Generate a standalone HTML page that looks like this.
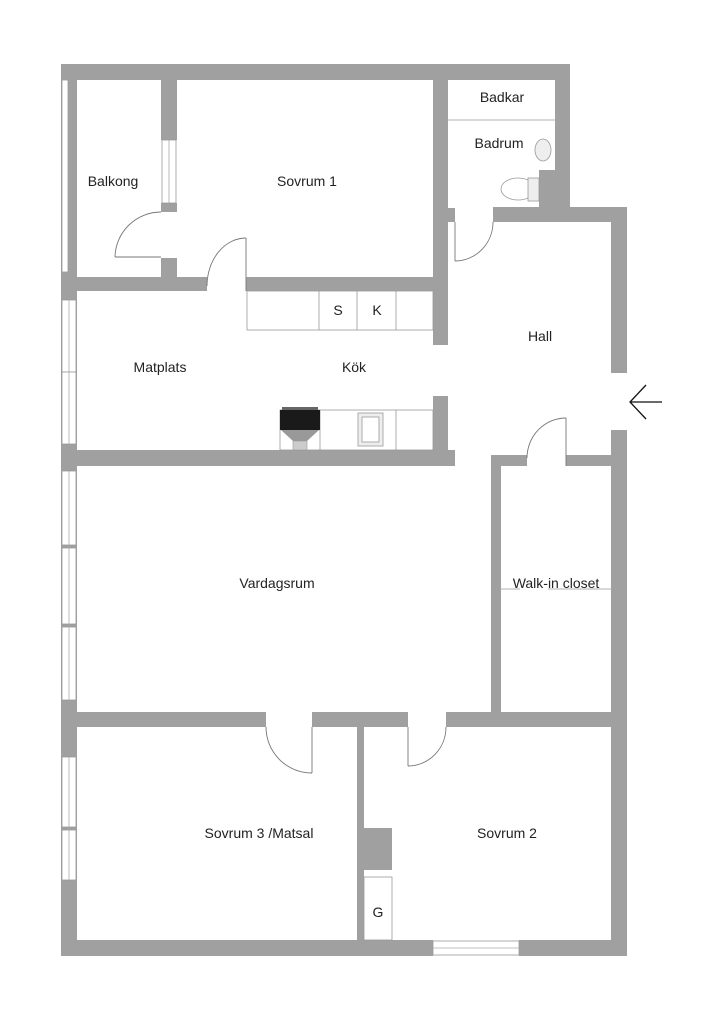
<!DOCTYPE html>
<html><head><meta charset="utf-8"><style>
html,body{margin:0;padding:0;background:#fff;}
svg{display:block;}
text{font-family:"Liberation Sans",sans-serif;font-size:14px;fill:#222;text-anchor:middle;}
</style></head><body>
<svg width="727" height="1024" viewBox="0 0 727 1024" xmlns="http://www.w3.org/2000/svg">
<g fill="#a0a0a0">
<rect x="61" y="64" width="509" height="16"/>
<rect x="555" y="64" width="15" height="158"/>
<rect x="493" y="207" width="134" height="15"/>
<rect x="611" y="207" width="16" height="166"/>
<rect x="611" y="430" width="16" height="526"/>
<rect x="61" y="940" width="372" height="16"/>
<rect x="519" y="940" width="108" height="16"/>
<rect x="61" y="64" width="16" height="892"/>
<rect x="161" y="80" width="16" height="60"/>
<rect x="161" y="203" width="16" height="9"/>
<rect x="161" y="258" width="16" height="19"/>
<rect x="61" y="277" width="146" height="14"/>
<rect x="246" y="277" width="190" height="14"/>
<rect x="433" y="64" width="15" height="281"/>
<rect x="433" y="396" width="15" height="70"/>
<rect x="448" y="208" width="7" height="14"/>
<rect x="539" y="170" width="16" height="38"/>
<rect x="61" y="450" width="394" height="16"/>
<rect x="491" y="455" width="10" height="272"/>
<rect x="491" y="455" width="36" height="11"/>
<rect x="566" y="455" width="45" height="11"/>
<rect x="61" y="712" width="205" height="15"/>
<rect x="312" y="712" width="96" height="15"/>
<rect x="446" y="712" width="181" height="15"/>
<rect x="61" y="700" width="16" height="57"/>
<rect x="357" y="727" width="7" height="213"/>
<rect x="364" y="828" width="28" height="42"/>
</g>
<g fill="#fff" stroke="#999" stroke-width="0.8">
<rect x="62" y="80" width="6" height="192"/>
<rect x="62" y="300" width="14" height="72"/>
<rect x="62" y="372" width="14" height="72"/>
<rect x="62" y="471" width="14" height="74"/>
<rect x="62" y="548" width="14" height="76"/>
<rect x="62" y="627" width="14" height="73"/>
<rect x="62" y="757" width="14" height="70"/>
<rect x="62" y="830" width="14" height="50"/>
<rect x="162" y="140" width="14" height="63"/>
<rect x="433" y="941" width="86" height="14"/>
</g>
<g stroke="#aaa" stroke-width="0.8" fill="none">
<line x1="69" y1="300" x2="69" y2="444"/><line x1="69" y1="471" x2="69" y2="700"/><line x1="69" y1="757" x2="69" y2="880"/>
<line x1="169" y1="140" x2="169" y2="203"/><line x1="433" y1="948" x2="519" y2="948"/>
</g>
<g stroke="#777" stroke-width="0.9" fill="none">
<line x1="115" y1="257" x2="161" y2="257"/>
<path d="M161 212 A46 46 0 0 0 115 257"/>
<line x1="246" y1="238" x2="246" y2="291"/>
<path d="M246 238 A39 48 0 0 0 207 286"/>
<line x1="455" y1="222" x2="455" y2="261"/>
<path d="M455 261 A38 39 0 0 0 493 222"/>
<line x1="566" y1="418" x2="566" y2="466"/>
<path d="M566 418 A39 40 0 0 0 527 458"/>
<line x1="312" y1="727" x2="312" y2="773"/>
<path d="M266 727 A46 46 0 0 0 312 773"/>
<line x1="408" y1="727" x2="408" y2="766"/>
<path d="M408 766 A38 39 0 0 0 446 727"/>
</g>
<g stroke="#999" stroke-width="0.8" fill="none">
<line x1="448" y1="120" x2="555" y2="120"/>
<ellipse cx="543" cy="150" rx="8" ry="11" fill="#eee"/>
<ellipse cx="518" cy="189" rx="17" ry="11" fill="#fff"/>
<rect x="528" y="178" width="11" height="23" fill="#eee"/>
</g>
<g stroke="#999" stroke-width="0.8" fill="#fff">
<rect x="247" y="291" width="186" height="39"/>
<line x1="319" y1="291" x2="319" y2="330"/><line x1="357" y1="291" x2="357" y2="330"/><line x1="396" y1="291" x2="396" y2="330"/>
<rect x="280" y="410" width="153" height="40"/>
<line x1="320" y1="410" x2="320" y2="450"/><line x1="396" y1="410" x2="396" y2="450"/>
<rect x="358" y="413" width="25" height="33" fill="#eee"/>
<rect x="362" y="417" width="17" height="25" fill="#fff"/>
<rect x="364" y="877" width="28" height="63"/>
<line x1="501" y1="589" x2="520" y2="589"/><line x1="548" y1="589" x2="611" y2="589"/>
</g>
<rect x="280" y="410" width="40" height="20" fill="#1a1a1a"/>
<rect x="282" y="407" width="36" height="3" fill="#666"/>
<polygon points="281,430 319,430 307,441 293,441" fill="#999"/>
<rect x="293" y="441" width="14" height="9" fill="#ccc" stroke="#999" stroke-width="0.6"/>
<g stroke="#111" stroke-width="1.3" fill="none">
<line x1="630" y1="402" x2="662" y2="402"/><polyline points="646,385 630,402 646,419"/>
</g>
<text x="502" y="102">Badkar</text>
<text x="499" y="148">Badrum</text>
<text x="113" y="186">Balkong</text>
<text x="307" y="186">Sovrum 1</text>
<text x="338" y="315">S</text>
<text x="377" y="315">K</text>
<text x="540" y="341">Hall</text>
<text x="160" y="372">Matplats</text>
<text x="354" y="372">Kök</text>
<text x="277" y="588">Vardagsrum</text>
<text x="556" y="588">Walk-in closet</text>
<text x="259" y="838">Sovrum 3 /Matsal</text>
<text x="507" y="838">Sovrum 2</text>
<text x="378" y="917">G</text>
</svg>
</body></html>
